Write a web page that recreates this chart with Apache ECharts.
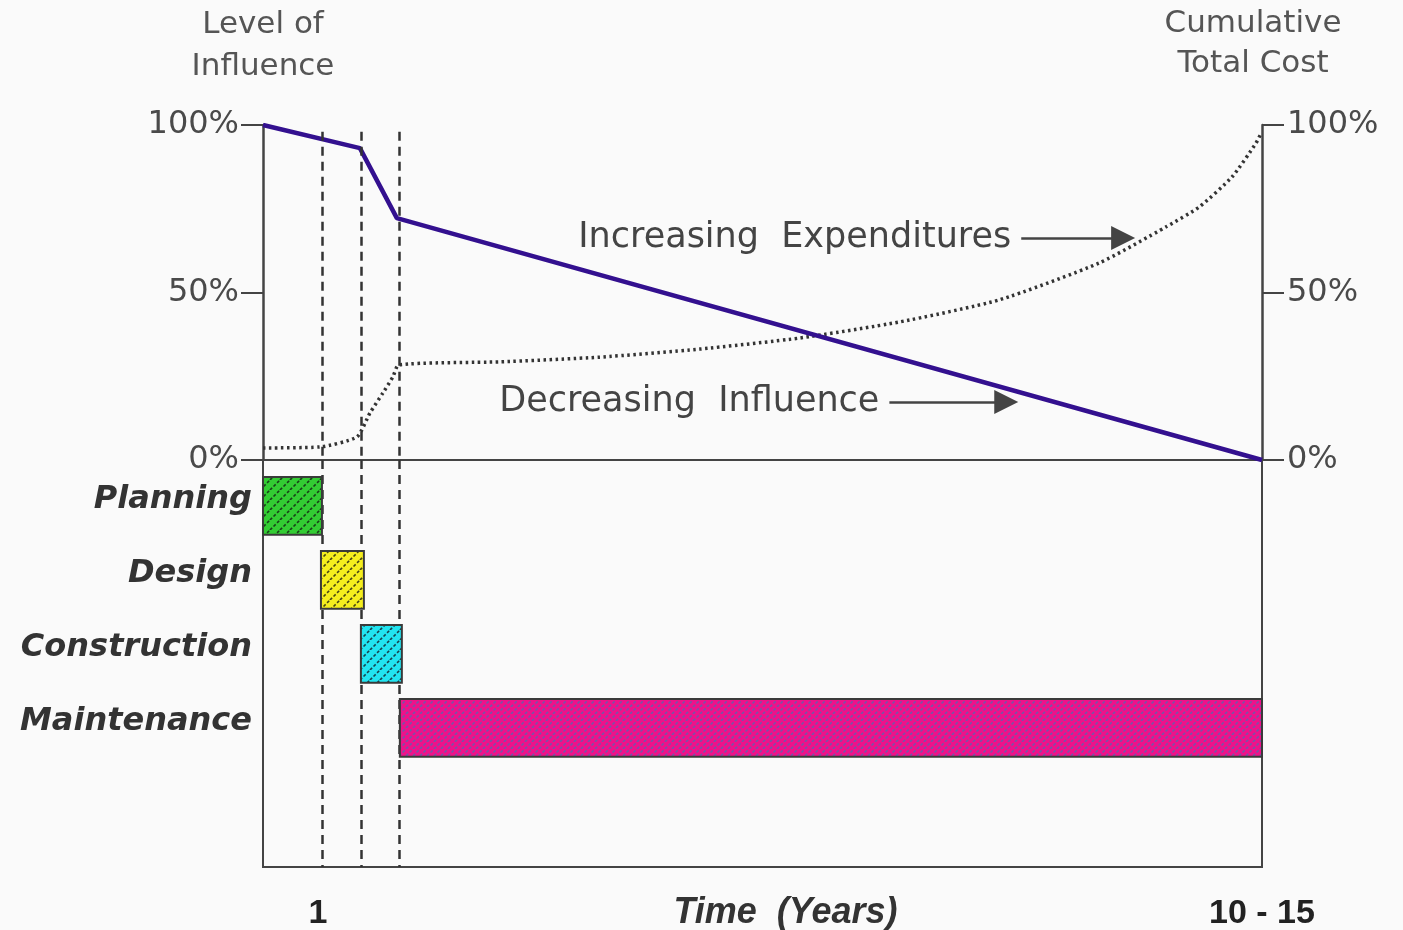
<!DOCTYPE html>
<html>
<head>
<meta charset="utf-8">
<title>Level of Influence vs Cumulative Total Cost</title>
<script src="https://cdn.jsdelivr.net/npm/echarts@6/dist/echarts.min.js"></script>
<style>
  html, body { margin: 0; padding: 0; background: #fafafa; }
  #chart { width: 1403px; height: 930px; }
</style>
</head>
<body>
<div id="chart"></div>
<script>
// Time runs on an abstract 0-100 scale: first year ends near 6, project end (10-15 years) at 100.
const influenceX = [0, 9.7, 13.4, 100];
const influenceY = [100, 93.1, 72.2, 0];

const costX = [0, 5.7, 9.4, 10.7, 12.0, 13.0, 13.6, 23.7, 33.7, 43.7, 53.7, 63.7, 73.7, 83.7, 90.4, 93.7, 97.0, 99.4, 99.9];
const costY = [3.6, 3.9, 6.9, 14.0, 20.0, 24.8, 28.4, 29.3, 30.7, 33.1, 36.4, 41.2, 47.8, 58.8, 69.6, 75.5, 84.5, 94.6, 97.5];

// Phase boundaries (dashed verticals)
const boundaries = [5.9, 9.8, 13.6];

// Phases of the project
const phases = ['Planning', 'Design', 'Construction', 'Maintenance'];
const phaseStart = [0, 5.8, 9.8, 13.7];
const phaseEnd = [5.9, 10.1, 13.9, 100];

// Axis ticks
const pctTicks = [0, 50, 100];
const timeTickValues = [5.5, 100];
const timeTickLabels = ['1', '10 - 15'];

const phaseColors = ['#33cc33', '#f5ee1e', '#22e4f0', '#ee128a'];
const hatchInk = ['rgba(20,40,20,0.85)', 'rgba(40,40,20,0.85)', 'rgba(20,40,50,0.85)', 'rgba(110,90,170,0.95)'];
const hatchSize = [10, 10, 10, 7];

function hatch(base, ink, size) {
  const c = document.createElement('canvas');
  c.width = size; c.height = size;
  const g = c.getContext('2d');
  g.fillStyle = base;
  g.fillRect(0, 0, size, size);
  g.strokeStyle = ink;
  g.lineWidth = 1.6;
  g.setLineDash([3, 2]);
  [-size, 0, size].forEach(function (o) {
    g.beginPath();
    g.moveTo(o, size);
    g.lineTo(o + size, 0);
    g.stroke();
  });
  return { image: c, repeat: 'repeat' };
}
const phaseFills = phases.map(function (_, i) { return hatch(phaseColors[i], hatchInk[i], hatchSize[i]); });

const ink = '#444';
const sansFont = "'DejaVu Sans', 'Liberation Sans', sans-serif";
const narrowFont = "'Liberation Sans Narrow', 'Liberation Sans', sans-serif";

const chart = echarts.init(document.getElementById('chart'));

const pctLabel = function (v) { return pctTicks.indexOf(v) >= 0 ? v + '%' : ''; };

chart.setOption({
  animation: false,
  backgroundColor: '#fafafa',
  grid: [
    { left: 263, top: 125, width: 999, height: 335, show: false, outerBoundsMode: 'none', containLabel: false },
    { left: 263, top: 460, width: 999, height: 407, show: true, borderColor: ink, borderWidth: 2, backgroundColor: 'transparent', outerBoundsMode: 'none', containLabel: false }
  ],
  xAxis: [
    {
      gridIndex: 0, type: 'value', min: 0, max: 100,
      axisLine: { show: true, onZero: false, lineStyle: { color: ink, width: 2 } },
      axisTick: { show: false }, axisLabel: { show: false }, splitLine: { show: false }
    },
    {
      gridIndex: 1, type: 'value', min: 0, max: 100,
      axisLine: { show: true, lineStyle: { color: ink, width: 2 } },
      axisTick: { show: false }, splitLine: { show: false },
      axisLabel: {
        show: true, customValues: timeTickValues, margin: 30,
        formatter: function (v) { return timeTickLabels[timeTickValues.indexOf(v)] || ''; },
        fontFamily: narrowFont, fontWeight: 'bold', fontSize: 34, color: '#222'
      },
      name: 'Time  (Years)', nameLocation: 'middle', nameGap: 28, nameMoveOverlap: false,
      nameTextStyle: { fontFamily: narrowFont, fontWeight: 'bold', fontStyle: 'italic', fontSize: 36, color: '#333', padding: [0, 0, 0, 46] }
    }
  ],
  yAxis: [
    {
      gridIndex: 0, type: 'value', min: 0, max: 100, interval: 50, position: 'left',
      axisLine: { show: true, lineStyle: { color: ink, width: 2.5 } },
      axisTick: { show: true, inside: false, length: 22, lineStyle: { color: ink, width: 2 } },
      axisLabel: { formatter: pctLabel, margin: 24, fontFamily: sansFont, fontSize: 32, color: '#4a4a4a' },
      splitLine: { show: false },
      name: 'Level of\nInfluence', nameLocation: 'end', nameGap: 37, nameMoveOverlap: false,
      nameTextStyle: { fontFamily: sansFont, fontSize: 31, lineHeight: 42, color: '#555', align: 'center' }
    },
    {
      gridIndex: 0, type: 'value', min: 0, max: 100, interval: 50, position: 'right',
      axisLine: { show: true, lineStyle: { color: ink, width: 2.5 } },
      axisTick: { show: true, inside: false, length: 22, lineStyle: { color: ink, width: 2 } },
      axisLabel: { formatter: pctLabel, margin: 25, fontFamily: sansFont, fontSize: 32, color: '#4a4a4a' },
      splitLine: { show: false },
      name: 'Cumulative\nTotal Cost', nameLocation: 'end', nameGap: 41, nameMoveOverlap: false,
      nameTextStyle: { fontFamily: sansFont, fontSize: 31, lineHeight: 40, color: '#555', align: 'center', padding: [0, 18, 0, 0] }
    },
    {
      gridIndex: 1, type: 'value', min: 0, max: 5.5, inverse: true,
      axisLine: { show: false }, axisTick: { show: false }, axisLabel: { show: false }, splitLine: { show: false }
    }
  ],
  series: [
    {
      name: 'Level of Influence', type: 'line', xAxisIndex: 0, yAxisIndex: 0, z: 4,
      data: influenceX.map(function (x, i) { return [x, influenceY[i]]; }),
      symbol: 'none',
      lineStyle: { color: '#33108f', width: 4.5 },
      markLine: {
        silent: true, symbol: ['none', 'none'], label: { show: false },
        lineStyle: { color: '#333', width: 2.5, type: [9, 6] },
        data: boundaries.map(function (b) { return [{ coord: [b, 98] }, { coord: [b, 0] }]; })
      }
    },
    {
      name: 'Cumulative Total Cost', type: 'line', xAxisIndex: 0, yAxisIndex: 1, z: 3,
      data: costX.map(function (x, i) { return [x, costY[i]]; }),
      symbol: 'none', smooth: 0.2,
      lineStyle: { color: '#333', width: 3.5, type: [2.5, 3.5] },
      markLine: {
        silent: true, symbol: ['none', 'triangle'], symbolSize: 24, symbolOffset: 0,
        lineStyle: { color: '#444', width: 2.5, type: 'solid' },
        label: { show: true, position: 'start', distance: 10, fontFamily: sansFont, fontSize: 35, color: '#444' },
        data: [
          [{ coord: [75.9, 66.3], label: { formatter: 'Increasing  Expenditures' } }, { coord: [86.1, 66.3] }],
          [{ coord: [62.7, 17.3], label: { formatter: 'Decreasing  Influence' } }, { coord: [74.4, 17.3] }]
        ]
      }
    },
    {
      name: 'Phase boundaries', type: 'line', xAxisIndex: 1, yAxisIndex: 2, z: 1,
      data: [], symbol: 'none',
      markLine: {
        silent: true, symbol: ['none', 'none'], label: { show: false },
        lineStyle: { color: '#333', width: 2.5, type: [9, 6] },
        data: boundaries.map(function (b) { return [{ coord: [b, 0] }, { coord: [b, 5.5] }]; })
      }
    },
    {
      name: 'Phases', type: 'custom', xAxisIndex: 1, yAxisIndex: 2, z: 5,
      data: phases.map(function (_, i) { return [i, phaseStart[i], phaseEnd[i]]; }),
      renderItem: function (params, api) {
        const row = api.value(0);
        const p0 = api.coord([api.value(1), row + 0.23]);
        const p1 = api.coord([api.value(2), row + 1.01]);
        const axisX = api.coord([0, 0])[0];
        return {
          type: 'group',
          children: [
            {
              type: 'rect',
              shape: { x: p0[0], y: p0[1], width: p1[0] - p0[0], height: p1[1] - p0[1] },
              style: { fill: phaseFills[row], stroke: '#3a3a3a', lineWidth: 2 }
            },
            {
              type: 'text',
              style: {
                text: phases[row], x: axisX - 11, y: (p0[1] + p1[1]) / 2 - 6,
                align: 'right', verticalAlign: 'middle',
                font: 'italic bold 32px ' + sansFont, fill: '#333'
              }
            }
          ]
        };
      }
    }
  ]
});
</script>
</body>
</html>
